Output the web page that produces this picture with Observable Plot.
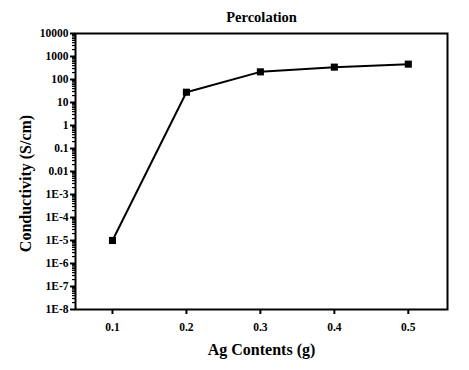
<!DOCTYPE html>
<html><head><meta charset="utf-8">
<script src="https://cdn.jsdelivr.net/npm/d3@7"></script>
<script src="https://cdn.jsdelivr.net/npm/@observablehq/plot@0.6"></script>
<style>
body{margin:0;background:#fff}
svg, svg text{font-family:"Liberation Serif", "Times New Roman", serif !important; font-weight:bold; font-variant:normal !important}
</style>
</head><body><div id="chart"></div>
<script>
const title = "Percolation";
const xLabel = "Ag Contents (g)";
const yLabel = "Conductivity (S/cm)";
const agContents = [0.1, 0.2, 0.3, 0.4, 0.5];
const conductivity = [1e-5, 28, 215, 345, 465];
const xTicks = [0.1, 0.2, 0.3, 0.4, 0.5];
const yTicks = [1e4, 1e3, 1e2, 1e1, 1, 1e-1, 1e-2, 1e-3, 1e-4, 1e-5, 1e-6, 1e-7, 1e-8];
const yTickLabels = ["10000","1000","100","10","1","0.1","0.01","1E-3","1E-4","1E-5","1E-6","1E-7","1E-8"];

const data = agContents.map((x, i) => ({x, y: conductivity[i]}));
const minorTicks = [];
for (let e = -8; e < 4; e++) for (let k = 2; k <= 9; k++) minorTicks.push(k * Math.pow(10, e));
const fmtY = d => yTickLabels[yTicks.findIndex(t => Math.abs(Math.log10(t) - Math.log10(d)) < 1e-6)];
const FF = "Liberation Serif";

const chart = Plot.plot({
  width: 469, height: 370,
  marginLeft: 75, marginRight: 22, marginTop: 33, marginBottom: 61,
  x: {domain: [0.05, 0.553]},
  y: {type: "log", domain: [1e-8, 1e4]},
  style: {fontFamily: FF, fontWeight: "bold", color: "#000", background: "#fff"},
  marks: [
    Plot.axisY({ticks: minorTicks, tickSize: 3, strokeWidth: 1.2, text: null, label: null}),
    Plot.axisY({ticks: yTicks, tickFormat: fmtY, tickSize: 5, tickPadding: 2, strokeWidth: 2, fontSize: 11.5, fontFamily: FF, fontWeight: "bold", label: null}),
    Plot.axisX({ticks: xTicks, tickFormat: d => d.toFixed(1), tickSize: 5, tickPadding: 8, strokeWidth: 2, fontSize: 11.5, fontFamily: FF, fontWeight: "bold", label: null}),
    Plot.frame({stroke: "#000", strokeWidth: 2}),
    Plot.line(data, {x: "x", y: "y", stroke: "#000", strokeWidth: 2}),
    Plot.dot(data, {x: "x", y: "y", symbol: "square", r: 4, fill: "#000", stroke: "none"}),
    Plot.text([title], {frameAnchor: "top", textAnchor: "middle", lineAnchor: "middle", dy: -16, fontSize: 14.5, fontFamily: FF, fontWeight: "bold", fill: "#000"}),
    Plot.text([xLabel], {frameAnchor: "bottom", textAnchor: "middle", lineAnchor: "middle", dy: 40, fontSize: 16, fontFamily: FF, fontWeight: "bold", fill: "#000"}),
    Plot.text([yLabel], {frameAnchor: "left", textAnchor: "middle", lineAnchor: "middle", dx: -50, dy: 12, rotate: -90, fontSize: 16, fontFamily: FF, fontWeight: "bold", fill: "#000"})
  ]
});
document.getElementById("chart").append(chart);
</script>
</body></html>
